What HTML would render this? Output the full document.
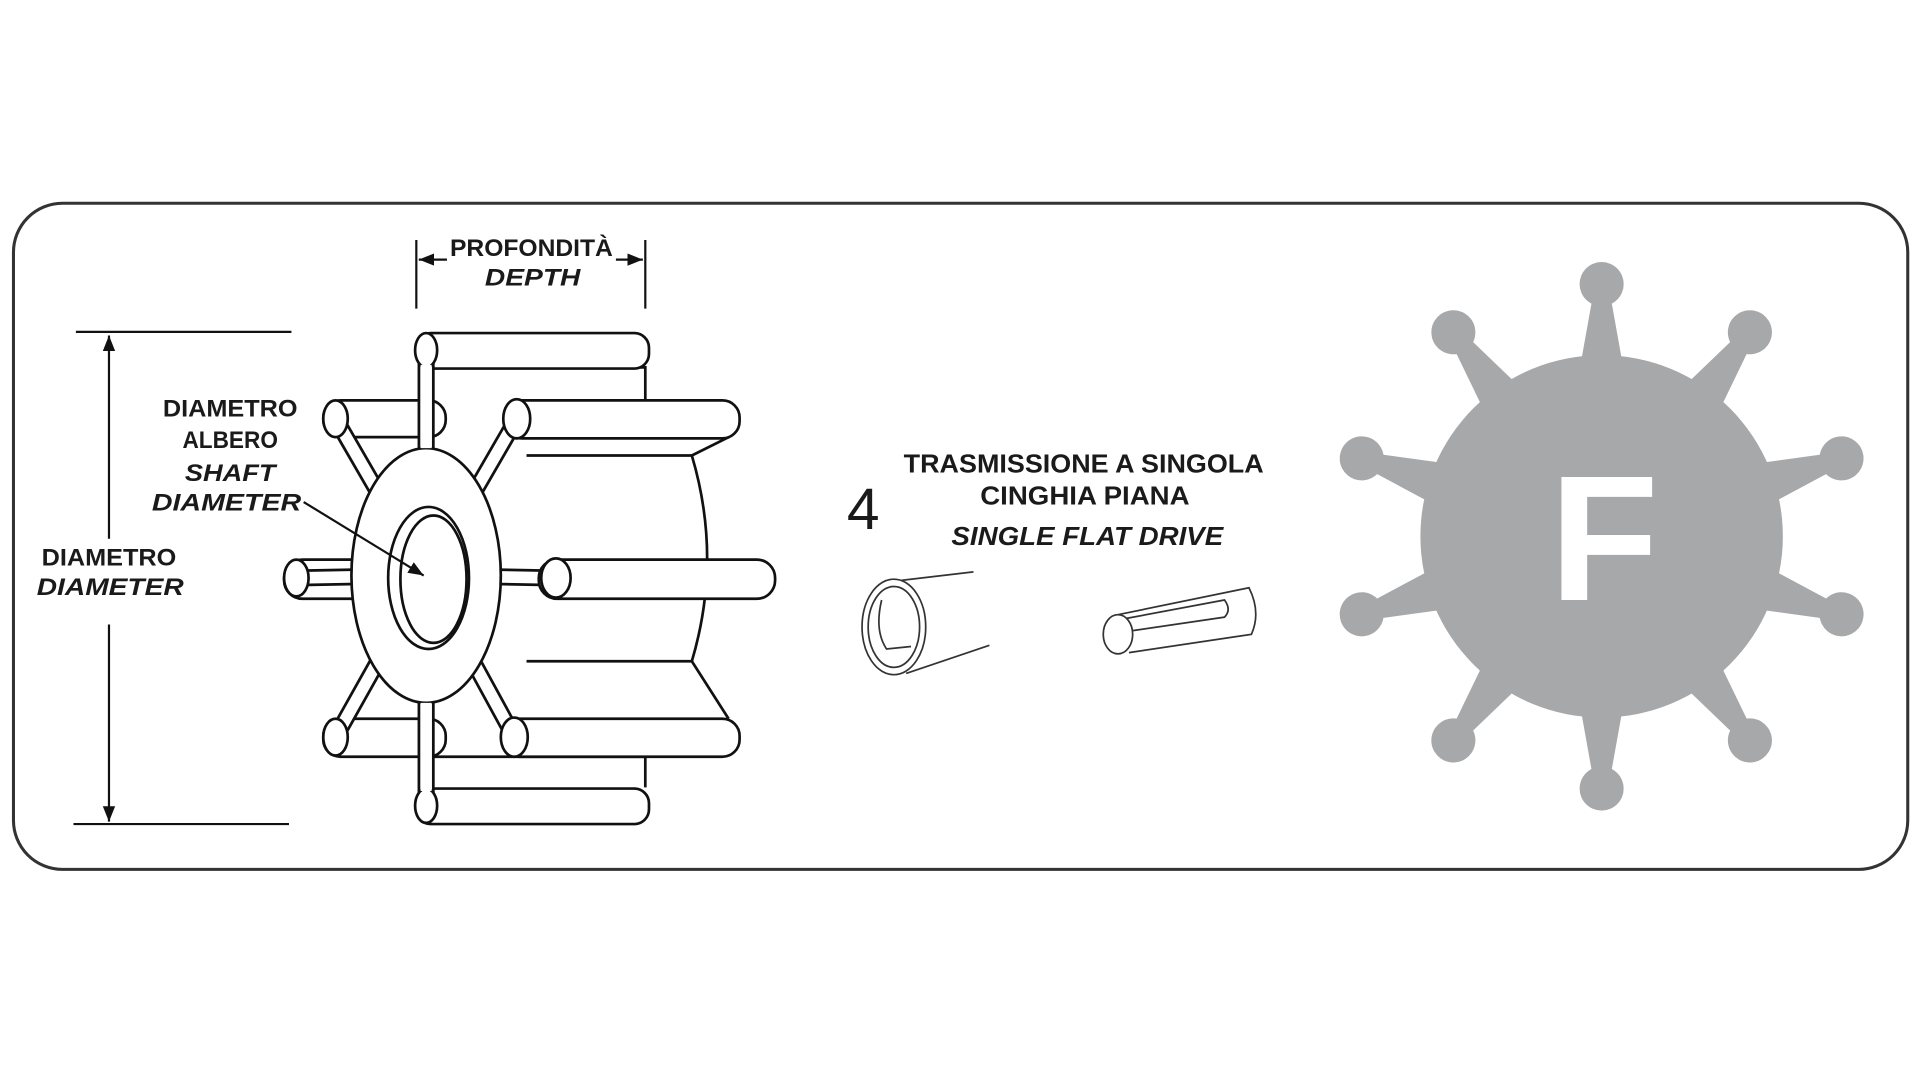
<!DOCTYPE html>
<html><head><meta charset="utf-8"><style>
html,body{margin:0;padding:0;background:#fff;width:1920px;height:1080px;overflow:hidden}
svg{display:block}
text{font-family:"Liberation Sans Narrow","Liberation Sans",sans-serif;font-weight:bold;fill:#1a1a1a}
</style></head><body>
<svg width="1920" height="1080" viewBox="0 0 1568 882" xmlns="http://www.w3.org/2000/svg">
<defs>
<marker id="ah" viewBox="0 0 10 10" refX="10" refY="5" markerWidth="7" markerHeight="7" orient="auto-start-reverse"><path d="M0,1 L10,5 L0,9 z" fill="#111"/></marker>
</defs>
<rect x="11" y="166" width="1547" height="544" rx="40" fill="#fff" stroke="#333" stroke-width="2.5"/>

<g stroke="#111" stroke-width="1.8" fill="none">
<line x1="62" y1="271" x2="238" y2="271"/>
<line x1="60" y1="673" x2="236" y2="673"/>
<line x1="89" y1="440" x2="89" y2="274" marker-end="url(#ah)"/>
<line x1="89" y1="510" x2="89" y2="671" marker-end="url(#ah)"/>
<line x1="340" y1="196" x2="340" y2="252"/>
<line x1="527" y1="196" x2="527" y2="252"/>
<line x1="365" y1="212" x2="342" y2="212" marker-end="url(#ah)"/>
<line x1="503" y1="212" x2="525" y2="212" marker-end="url(#ah)"/>
</g>
<text x="434" y="209" font-size="20" text-anchor="middle" textLength="133" lengthAdjust="spacingAndGlyphs">PROFONDITÀ</text>
<text x="435" y="233" font-size="20" font-style="italic" text-anchor="middle" textLength="78" lengthAdjust="spacingAndGlyphs">DEPTH</text>
<text x="89" y="462" font-size="20" text-anchor="middle" textLength="110" lengthAdjust="spacingAndGlyphs">DIAMETRO</text>
<text x="90" y="486" font-size="20" font-style="italic" text-anchor="middle" textLength="120" lengthAdjust="spacingAndGlyphs">DIAMETER</text>
<text x="188" y="340" font-size="20" text-anchor="middle" textLength="110" lengthAdjust="spacingAndGlyphs">DIAMETRO</text>
<text x="188" y="366" font-size="20" text-anchor="middle" textLength="78" lengthAdjust="spacingAndGlyphs">ALBERO</text>
<text x="188" y="393" font-size="20" font-style="italic" text-anchor="middle" textLength="74" lengthAdjust="spacingAndGlyphs">SHAFT</text>
<text x="185" y="417" font-size="20" font-style="italic" text-anchor="middle" textLength="122" lengthAdjust="spacingAndGlyphs">DIAMETER</text>

<g stroke="#111" stroke-width="2.2" fill="#fff">
<path d="M355,300 L527,300 L527,330 L420,330 M430,372 L565,372 Q590,456 565,540 L430,540" fill="none"/>
<path d="M565,372 L595,357 M565,540 L595,587" fill="none"/>
<path d="M280,345 L345,345 M280,600 L345,600 M345,618 L527,618 L527,643" fill="none"/>
<rect x="340" y="272" width="190" height="29" rx="12"/>
<rect x="340" y="644" width="190" height="29" rx="12"/>
<rect x="264" y="327" width="100" height="30" rx="14"/>
<rect x="232" y="457" width="90" height="32" rx="15"/>
<rect x="264" y="587" width="100" height="31" rx="14"/>
</g>
<g stroke-linecap="round">
<g stroke="#111" stroke-width="14">
<line x1="348" y1="470" x2="348" y2="284"/><line x1="348" y1="470" x2="348" y2="660"/>
<line x1="348" y1="470" x2="242" y2="472"/><line x1="348" y1="470" x2="452" y2="472"/>
<line x1="348" y1="470" x2="274" y2="342"/><line x1="348" y1="470" x2="422" y2="342"/>
<line x1="348" y1="470" x2="274" y2="602"/><line x1="348" y1="470" x2="420" y2="602"/>
</g>
<g stroke="#fff" stroke-width="9.5">
<line x1="348" y1="470" x2="348" y2="284"/><line x1="348" y1="470" x2="348" y2="660"/>
<line x1="348" y1="470" x2="242" y2="472"/><line x1="348" y1="470" x2="452" y2="472"/>
<line x1="348" y1="470" x2="274" y2="342"/><line x1="348" y1="470" x2="422" y2="342"/>
<line x1="348" y1="470" x2="274" y2="602"/><line x1="348" y1="470" x2="420" y2="602"/>
</g>
</g>
<g stroke="#111" stroke-width="2.2" fill="#fff">
<ellipse cx="348" cy="470" rx="61" ry="104"/>
<ellipse cx="350" cy="472" rx="33" ry="58"/>
<ellipse cx="354" cy="473" rx="27" ry="52"/>
<rect x="412" y="327" width="192" height="31" rx="14"/>
<rect x="440" y="457" width="193" height="32" rx="15"/>
<rect x="410" y="587" width="194" height="31" rx="14"/>
<ellipse cx="348" cy="286" rx="9" ry="14"/>
<ellipse cx="348" cy="658" rx="9" ry="14"/>
<ellipse cx="242" cy="472" rx="10" ry="15"/>
<ellipse cx="454" cy="472" rx="12" ry="16"/>
<ellipse cx="274" cy="342" rx="10" ry="15"/>
<ellipse cx="422" cy="342" rx="11" ry="16"/>
<ellipse cx="274" cy="602" rx="10" ry="15"/>
<ellipse cx="420" cy="602" rx="11" ry="16"/>
</g>
<g stroke="#fff" stroke-width="9">
<line x1="348" y1="366" x2="348" y2="298"/><line x1="348" y1="574" x2="348" y2="646"/>
</g>
<line x1="248" y1="410" x2="346" y2="470" stroke="#111" stroke-width="1.8" marker-end="url(#ah)"/>

<text x="705" y="432" font-size="48" text-anchor="middle" style="font-weight:normal">4</text>
<text x="885" y="386" font-size="21" text-anchor="middle" textLength="294" lengthAdjust="spacingAndGlyphs">TRASMISSIONE A SINGOLA</text>
<text x="886" y="412" font-size="21" text-anchor="middle" textLength="171" lengthAdjust="spacingAndGlyphs">CINGHIA PIANA</text>
<text x="888" y="445" font-size="21" font-style="italic" text-anchor="middle" textLength="222" lengthAdjust="spacingAndGlyphs">SINGLE FLAT DRIVE</text>
<g stroke="#333" stroke-width="1.4" fill="none">
<ellipse cx="730" cy="512" rx="26" ry="39"/>
<ellipse cx="730" cy="512" rx="21" ry="33"/>
<path d="M720,490 Q714,515 724,530 L744,528"/>
<line x1="736" y1="474" x2="795" y2="467"/>
<line x1="740" y1="550" x2="808" y2="527"/>
<ellipse cx="913" cy="518" rx="12" ry="16"/>
<path d="M913,502 L1020,480 Q1030,500 1022,518 L922,533"/>
<path d="M920,505 L1000,490 Q1006,498 1000,504 L925,515"/>
</g>

<g fill="#a7a8aa">
<circle cx="1308" cy="438" r="148"/>
<g id="sp">
<polygon points="1290,302 1326,302 1314,235 1302,235"/>
<circle cx="1308" cy="232" r="18"/>
</g>
<use href="#sp" transform="rotate(36 1308 438)"/>
<use href="#sp" transform="rotate(72 1308 438)"/>
<use href="#sp" transform="rotate(108 1308 438)"/>
<use href="#sp" transform="rotate(144 1308 438)"/>
<use href="#sp" transform="rotate(180 1308 438)"/>
<use href="#sp" transform="rotate(216 1308 438)"/>
<use href="#sp" transform="rotate(252 1308 438)"/>
<use href="#sp" transform="rotate(288 1308 438)"/>
<use href="#sp" transform="rotate(324 1308 438)"/>
</g>
<text x="1310" y="490" font-size="146" text-anchor="middle" style="font-family:'Liberation Sans',sans-serif;fill:#fff">F</text>
</svg>
</body></html>
